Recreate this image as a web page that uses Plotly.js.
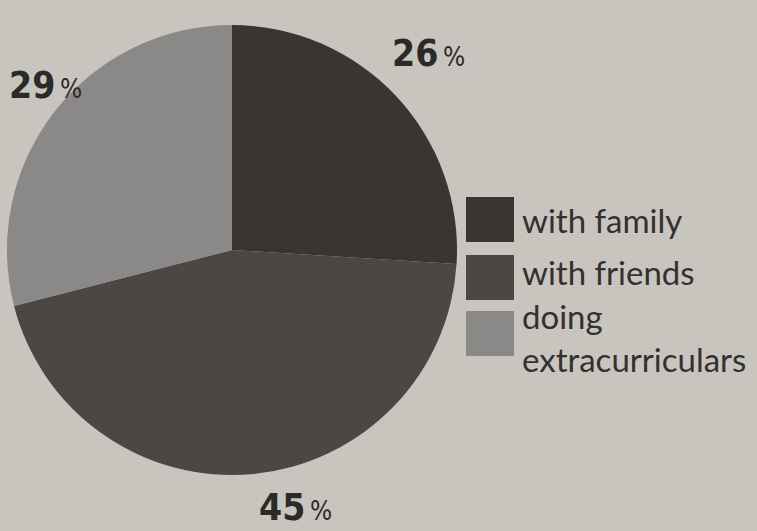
<!DOCTYPE html>
<html><head><meta charset="utf-8">
<script src="https://cdn.plot.ly/plotly-3.0.1.min.js"></script>
<style>html,body{margin:0;padding:0;background:#c8c5bf;}</style>
</head><body><div id="chart" style="width:757px;height:531px;"></div>
<script>
const labels = ["with family", "with friends", "doing<br>extracurriculars"];
const values = [26, 45, 29];
const colors = ["#393533", "#4a4745", "#8b8987"];

const trace = {
  type: "pie",
  labels: labels,
  values: values,
  sort: false,
  direction: "clockwise",
  rotation: 0,
  marker: {colors: colors, line: {width: 0}},
  textinfo: "none",
  hoverinfo: "none",
  showlegend: false,
  domain: {x: [0.0092, 0.6037], y: [0.1055, 0.953]}
};

const shapes = [];
const annotations = [];
const boxTop = [197, 255, 311];
const textY = [220, 272, 337];
labels.forEach((lab, i) => {
  shapes.push({type: "rect", xref: "paper", yref: "paper",
    x0: 466/757, x1: 514/757, y0: 1 - (boxTop[i] + 45)/531, y1: 1 - boxTop[i]/531,
    fillcolor: colors[i], line: {width: 0}});
  annotations.push({xref: "paper", yref: "paper", x: 520/757, y: 1 - textY[i]/531,
    xanchor: "left", yanchor: "middle", align: "left", showarrow: false, text: lab,
    font: {family: "Lato, Noto Sans, sans-serif", size: 33, color: "#33312f"}});
});

// percentage label positions (pixels) for each slice
const pctPos = [[428, 54], [295, 507], [45, 85]];
values.forEach((v, i) => {
  annotations.push({xref: "paper", yref: "paper", x: pctPos[i][0]/757, y: 1 - pctPos[i][1]/531,
    xanchor: "center", yanchor: "middle", showarrow: false,
    text: "<b>" + v + "</b><span style='font-size:26px'>\u2009%</span>",
    font: {family: "DejaVu Sans Condensed, Liberation Sans Narrow, sans-serif", size: 37, color: "#2c2a28"}});
});

const layout = {
  width: 757, height: 531,
  margin: {l: 0, r: 0, t: 0, b: 0},
  paper_bgcolor: "#c8c5bf",
  plot_bgcolor: "#c8c5bf",
  shapes: shapes,
  annotations: annotations,
  showlegend: false
};
Plotly.newPlot("chart", [trace], layout, {displayModeBar: false, staticPlot: true});
</script></body></html>
